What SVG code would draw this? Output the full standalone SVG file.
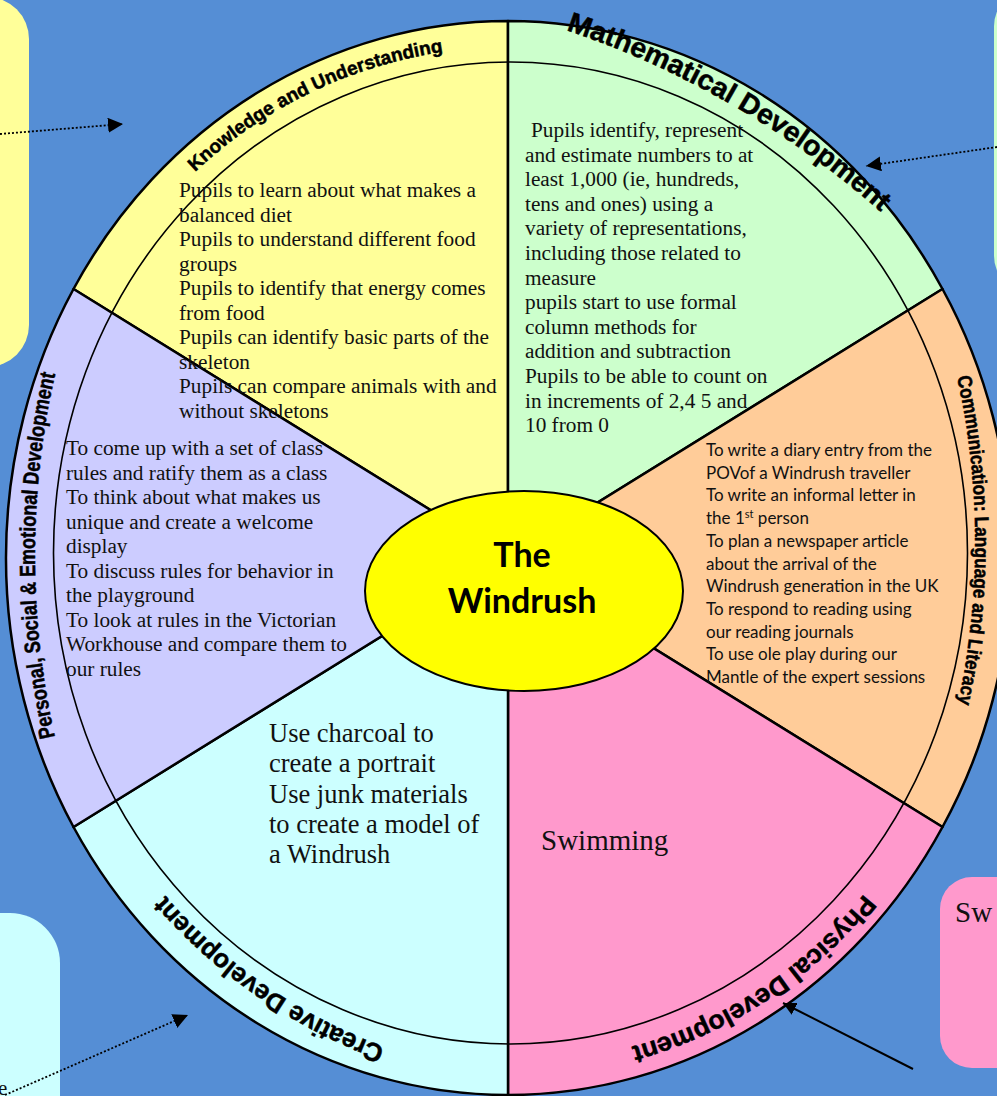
<svg xmlns="http://www.w3.org/2000/svg" width="997" height="1096" viewBox="0 0 997 1096">
<style>
.ser{font-family:"Liberation Serif","Times New Roman",serif;fill:#111}
.cal{font-family:Lato,"Liberation Sans",sans-serif;fill:#111}
.lab{font-family:"Liberation Sans",Arial,sans-serif;font-weight:bold;fill:#000;stroke:#000;stroke-width:0.5}
.wedge{stroke:#000;stroke-width:2.5;stroke-linejoin:round}
.dot{stroke:#000;stroke-width:1.8;stroke-dasharray:2 2;fill:none}
.solid{stroke:#000;stroke-width:2;fill:none}
</style>
<defs>
<marker id="ah" viewBox="0 0 10 10" refX="10" refY="5" markerWidth="15" markerHeight="15" markerUnits="userSpaceOnUse" orient="auto"><path d="M0,0 L10,5 L0,10 z" fill="#000"/></marker>
<marker id="ah2" viewBox="0 0 10 10" refX="10" refY="5" markerWidth="13" markerHeight="13" markerUnits="userSpaceOnUse" orient="auto"><path d="M0,0 L10,5 L0,10 z" fill="#000"/></marker>
<path id="pKnow" d="M195,172 A461,461 0 0 1 591,54"/>
<path id="pMath" d="M566,30 A920,920 0 0 1 976,309.5"/>
<path id="pComm" d="M957,377 A765,765 0 0 1 929,804"/>
<path id="pPhys" d="M864,894 A454,454 0 0 1 547,1062"/>
<path id="pCrea" d="M385,1047 A530,530 0 0 1 120,835"/>
<path id="pPSE" d="M55,737 A829,829 0 0 1 85,272.5"/>
</defs>
<rect width="997" height="1096" fill="#558ED5"/>
<g id="box-yellow"><rect x="-60" y="-3" width="89" height="370" rx="42" fill="#FFFF99"/></g>
<g id="box-green"><rect x="994" y="-9" width="100" height="300" rx="35" fill="#CCFFCC"/></g>
<g id="box-cyan"><rect x="-60" y="913" width="120" height="250" rx="50" fill="#CCFFFF"/><text class="ser" x="-2" y="1095" font-size="21">e</text></g>
<g id="box-pink"><rect x="940" y="877" width="120" height="191" rx="32" fill="#FF99CC"/><text class="ser" x="955" y="922" font-size="29">Sw</text></g>

<g id="wedge-knowledge"><path class="wedge" d="M508,558 L73.5,289 A502,537 0 0 1 508,21 Z" fill="#FFFF99"/></g>
<g id="wedge-maths"><path class="wedge" d="M508,558 L508,21 A502,537 0 0 1 942.5,289 Z" fill="#CCFFCC"/></g>
<g id="wedge-communication"><path class="wedge" d="M508,558 L942.5,289 A508,537 0 0 1 942.5,827 Z" fill="#FFCC99"/></g>
<g id="wedge-physical"><path class="wedge" d="M508,558 L942.5,827 A502,537 0 0 1 508,1095 Z" fill="#FF99CC"/></g>
<g id="wedge-creative"><path class="wedge" d="M508,558 L508,1095 A502,537 0 0 1 73.5,827 Z" fill="#CCFFFF"/></g>
<g id="wedge-pse"><path class="wedge" d="M508,558 L73.5,827 A502,537 0 0 1 73.5,289 Z" fill="#CCCCFF"/></g>
<g id="inner-ring"><ellipse cx="510.5" cy="553" rx="457" ry="491" fill="none" stroke="#000" stroke-width="1.6"/></g>

<g id="labels">
<text class="lab" font-size="19"><textPath href="#pKnow">Knowledge and Understanding</textPath></text>
<text class="lab" font-size="28"><textPath href="#pMath" textLength="366" lengthAdjust="spacingAndGlyphs">Mathematical Development</textPath></text>
<text class="lab" font-size="20"><textPath href="#pComm" textLength="329" lengthAdjust="spacingAndGlyphs">Communication: Language and Literacy</textPath></text>
<text class="lab" font-size="26"><textPath href="#pPhys" textLength="283" lengthAdjust="spacingAndGlyphs">Physical Development</textPath></text>
<text class="lab" font-size="26"><textPath href="#pCrea" textLength="270" lengthAdjust="spacingAndGlyphs">Creative Development</textPath></text>
<text class="lab" font-size="22"><textPath href="#pPSE" textLength="366" lengthAdjust="spacingAndGlyphs">Personal, Social &amp; Emotional Development</textPath></text>
</g>

<g id="text-knowledge"><text class="ser" font-size="21.3">
<tspan x="179" y="197">Pupils to learn about what makes a</tspan>
<tspan x="179" y="221.5">balanced diet</tspan>
<tspan x="179" y="246">Pupils to understand different food</tspan>
<tspan x="179" y="270.5">groups</tspan>
<tspan x="179" y="295">Pupils to identify that energy comes</tspan>
<tspan x="179" y="319.5">from food</tspan>
<tspan x="179" y="344">Pupils can identify basic parts of the</tspan>
<tspan x="179" y="368.5">skeleton</tspan>
<tspan x="179" y="393">Pupils can compare animals with and</tspan>
<tspan x="179" y="417.5">without skeletons</tspan>
</text></g>

<g id="text-maths"><text class="ser" font-size="21.3">
<tspan x="531" y="137">Pupils identify, represent</tspan>
<tspan x="525" y="161.6">and estimate numbers to at</tspan>
<tspan x="525" y="186.2">least 1,000 (ie, hundreds,</tspan>
<tspan x="525" y="210.8">tens and ones) using a</tspan>
<tspan x="525" y="235.4">variety of representations,</tspan>
<tspan x="525" y="260">including those related to</tspan>
<tspan x="525" y="284.6">measure</tspan>
<tspan x="525" y="309.2">pupils start to use formal</tspan>
<tspan x="525" y="333.8">column methods for</tspan>
<tspan x="525" y="358.4">addition and subtraction</tspan>
<tspan x="525" y="383">Pupils to be able to count on</tspan>
<tspan x="525" y="407.6">in increments of 2,4 5 and</tspan>
<tspan x="525" y="432.2">10 from 0</tspan>
</text></g>

<g id="text-pse"><text class="ser" font-size="21.3">
<tspan x="66" y="455">To come up with a set of class</tspan>
<tspan x="66" y="479.5">rules and ratify them as a class</tspan>
<tspan x="66" y="504">To think about what makes us</tspan>
<tspan x="66" y="528.5">unique and create a welcome</tspan>
<tspan x="66" y="553">display</tspan>
<tspan x="66" y="577.5">To discuss rules for behavior in</tspan>
<tspan x="66" y="602">the playground</tspan>
<tspan x="66" y="626.5">To look at rules in the Victorian</tspan>
<tspan x="66" y="651">Workhouse and compare them to</tspan>
<tspan x="66" y="675.5">our rules</tspan>
</text></g>

<g id="text-communication"><text class="cal" font-size="17">
<tspan x="706" y="456">To write a diary entry from the</tspan>
<tspan x="706" y="478.7">POVof a Windrush traveller</tspan>
<tspan x="706" y="501.4">To write an informal letter in</tspan>
<tspan x="706" y="524.1">the 1<tspan font-size="11" dy="-6">st</tspan><tspan dy="6"> person</tspan></tspan>
<tspan x="706" y="546.8">To plan a newspaper article</tspan>
<tspan x="706" y="569.5">about the arrival of the</tspan>
<tspan x="706" y="592.2">Windrush generation in the UK</tspan>
<tspan x="706" y="614.9">To respond to reading using</tspan>
<tspan x="706" y="637.6">our reading journals</tspan>
<tspan x="706" y="660.3">To use ole play during our</tspan>
<tspan x="706" y="683">Mantle of the expert sessions</tspan>
</text></g>

<g id="text-creative"><text class="ser" font-size="26.5">
<tspan x="269" y="742">Use charcoal to</tspan>
<tspan x="269" y="772.3">create a portrait</tspan>
<tspan x="269" y="802.6">Use junk materials</tspan>
<tspan x="269" y="832.9">to create a model of</tspan>
<tspan x="269" y="863.2">a Windrush</tspan>
</text></g>

<g id="text-physical"><text class="ser" font-size="29" x="541" y="850">Swimming</text></g>

<g id="center"><ellipse cx="524" cy="591" rx="159" ry="100" fill="#FFFF00" stroke="#000" stroke-width="2"/>
<text font-family="Lato,'Liberation Sans',sans-serif" font-weight="bold" font-size="34" fill="#000" text-anchor="middle"><tspan x="522" y="567">The</tspan><tspan x="522" y="613">Windrush</tspan></text></g>

<g id="connectors">
<line class="dot" x1="0" y1="134" x2="123" y2="124" marker-end="url(#ah)"/>
<line class="dot" x1="997" y1="147" x2="866" y2="166" marker-end="url(#ah)"/>
<line class="dot" x1="5" y1="1095" x2="188" y2="1015" marker-end="url(#ah)"/>
<line class="solid" x1="913" y1="1069" x2="783" y2="1003" marker-end="url(#ah2)"/>
</g>
</svg>
